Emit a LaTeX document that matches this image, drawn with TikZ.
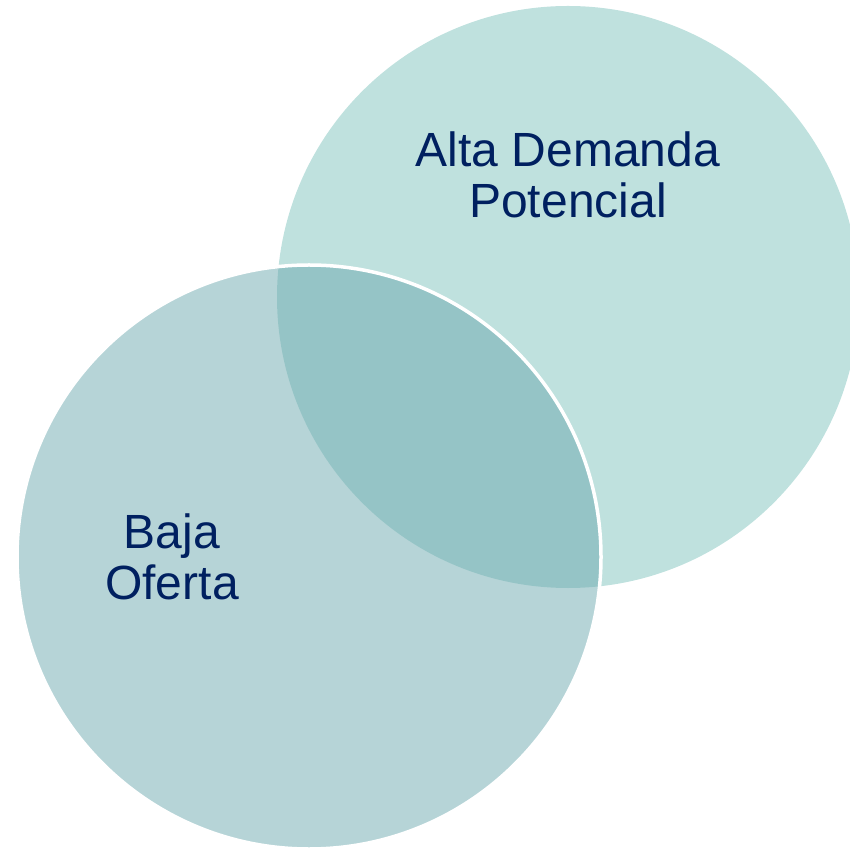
\documentclass[tikz,border=0pt]{standalone}
\usepackage{fontspec}
\setmainfont{Liberation Sans}
\definecolor{altac}{HTML}{BFE1DE}
\definecolor{bajac}{HTML}{6DA9AF}
\definecolor{textc}{HTML}{002060}
\tikzset{
  etiqueta/.style={text=textc,align=center,font=\fontsize{48}{51}\selectfont},
}

\begin{document}
\begin{tikzpicture}[x=1pt,y=1pt]
            \useasboundingbox (0,0) rectangle (850,849);
            \clip (0,0) rectangle (850,849);
            \fill[altac] (568,552) circle (291);
            \draw[line width=3.5pt,white,fill=bajac,fill opacity=0.5] (309,292) circle (292);
            \node[etiqueta] (demanda) at (568,674) {Alta Demanda\\Potencial};
            \node[etiqueta] (oferta) at (172,292) {Baja\\Oferta};
        \end{tikzpicture}
\end{document}
